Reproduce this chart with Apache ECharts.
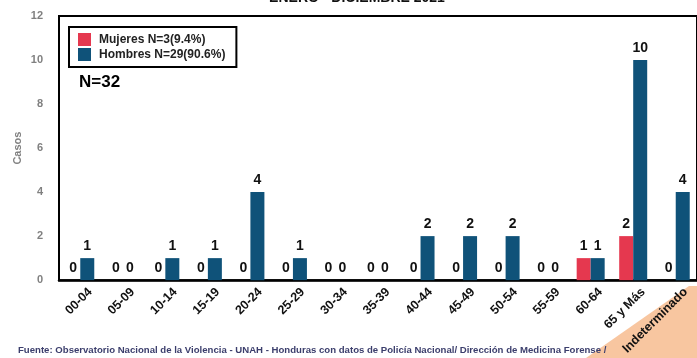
<!DOCTYPE html>
<html>
<head>
<meta charset="utf-8">
<script src="https://cdn.jsdelivr.net/npm/echarts@6/dist/echarts.min.js"></script>
<style>
  html, body { margin: 0; padding: 0; background: #fff; }
  #chart { width: 697px; height: 358px; }
</style>
</head>
<body>
<div id="chart"></div>
<script>
// Age groups (years)
var categories = ['00-04', '05-09', '10-14', '15-19', '20-24', '25-29', '30-34', '35-39',
  '40-44', '45-49', '50-54', '55-59', '60-64', '65 y Más', 'Indeterminado'];
// Cases by sex
var mujeres = [0, 0, 0, 0, 0, 0, 0, 0, 0, 0, 0, 0, 1, 2, 0];
var hombres = [1, 0, 1, 1, 4, 1, 0, 0, 2, 2, 2, 0, 1, 10, 4];
var yTicks = { min: 0, max: 12, interval: 2 };

var RED = '#e5384f';
var BLUE = '#0f5279';
var FONT = '"Liberation Sans", Arial, sans-serif';

var chart = echarts.init(document.getElementById('chart'));

var valueLabel = {
  show: true,
  position: 'top',
  distance: 5,
  color: '#111',
  fontFamily: FONT,
  fontWeight: 'bold',
  fontSize: 14
};

chart.setOption({
  animation: false,
  backgroundColor: '#fff',
  textStyle: { fontFamily: FONT },
  graphic: [
    {
      type: 'polygon',
      z: -10,
      silent: true,
      shape: { points: [[586, 358], [689, 286], [697, 286], [697, 358]] },
      style: { fill: '#f8c6a0' }
    },
    {
      type: 'text',
      x: 357,
      y: -9,
      style: {
        text: 'ENERO - DICIEMBRE 2021',
        align: 'center',
        fontFamily: FONT,
        fontWeight: 'bold',
        fontSize: 14,
        fill: '#111'
      }
    },
    {
      type: 'text',
      left: 79,
      top: 74,
      style: {
        text: 'N=32',
        fontFamily: FONT,
        fontWeight: 'bold',
        fontSize: 17,
        fill: '#000'
      }
    },
    {
      type: 'text',
      left: 18,
      top: 345,
      style: {
        text: 'Fuente: Observatorio Nacional de la Violencia - UNAH - Honduras con datos de Policía Nacional/ Dirección de Medicina Forense /',
        fontFamily: FONT,
        fontWeight: 'bold',
        fontSize: 9.6,
        fill: '#3b3e6c'
      }
    }
  ],
  legend: {
    left: 69,
    top: 27,
    orient: 'vertical',
    itemWidth: 13,
    itemHeight: 13,
    itemGap: 2,
    padding: [6, 11, 6, 9],
    borderColor: '#000',
    borderWidth: 2,
    icon: 'rect',
    data: ['Mujeres N=3(9.4%)', 'Hombres N=29(90.6%)'],
    textStyle: {
      fontFamily: FONT,
      fontWeight: 'bold',
      fontSize: 12,
      color: '#222',
      padding: [0, 0, 0, 3]
    }
  },
  grid: {
    left: 59,
    top: 16,
    width: 648,
    height: 268,
    show: true,
    borderColor: '#000',
    borderWidth: 2,
    backgroundColor: 'transparent'
  },
  xAxis: {
    type: 'category',
    data: categories,
    axisLine: { lineStyle: { color: '#000', width: 2.5 } },
    axisTick: { show: false },
    axisLabel: {
      interval: 0,
      rotate: 45,
      margin: 0,
      verticalAlign: 'top',
      lineHeight: 14,
      padding: [7, 0, 0, 0],
      color: '#111',
      fontFamily: FONT,
      fontWeight: 'bold',
      fontSize: 12.5
    }
  },
  yAxis: {
    type: 'value',
    min: yTicks.min,
    max: yTicks.max,
    interval: yTicks.interval,
    name: 'Casos',
    nameLocation: 'middle',
    nameGap: 36,
    nameMoveOverlap: false,
    nameTextStyle: {
      color: '#808080',
      fontFamily: FONT,
      fontWeight: 'bold',
      fontSize: 11
    },
    splitLine: { show: false },
    axisTick: { show: false },
    axisLine: { show: true, lineStyle: { color: '#000', width: 2 } },
    axisLabel: {
      margin: 16,
      padding: [4, 0, 0, 0],
      color: '#808080',
      fontFamily: FONT,
      fontWeight: 'bold',
      fontSize: 11
    }
  },
  series: [
    {
      name: 'Mujeres N=3(9.4%)',
      type: 'bar',
      data: mujeres,
      barWidth: 14,
      barGap: '0%',
      itemStyle: { color: RED },
      label: valueLabel
    },
    {
      name: 'Hombres N=29(90.6%)',
      type: 'bar',
      data: hombres,
      barWidth: 14,
      barGap: '0%',
      itemStyle: { color: BLUE },
      label: valueLabel
    }
  ]
});
</script>
</body>
</html>
